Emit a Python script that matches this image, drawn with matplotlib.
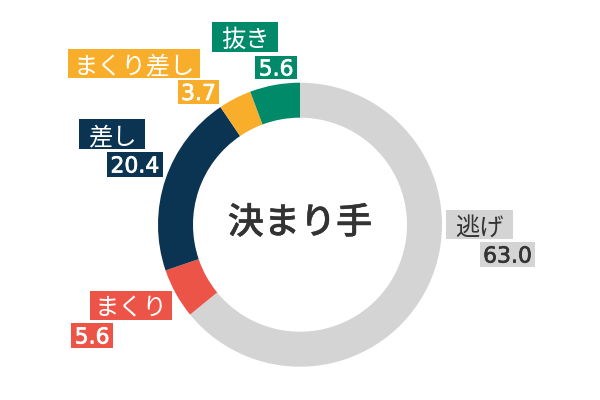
import matplotlib
matplotlib.use("Agg")
import matplotlib.pyplot as plt
from matplotlib.patches import Rectangle
import matplotlib.patheffects as pe

# Data
categories = ["逃げ", "まくり", "差し", "まくり差し", "抜き"]
values = [63.0, 5.6, 20.4, 3.7, 5.6]
value_labels = ["63.0", "5.6", "20.4", "3.7", "5.6"]
colors = ["#d4d4d4", "#ec5448", "#0b3352", "#f9ae2b", "#008a6a"]
text_colors = ["#333333", "white", "white", "white", "white"]
title = "決まり手"

# label box layout (pixels from top-left): x0, x1, y0, y1
name_boxes = [(446, 513, 210, 239), (90, 172, 291, 320), (79, 145, 119, 149),
              (68, 199.5, 49, 77.5), (212, 278, 22, 52)]
value_boxes = [(480, 535, 242, 267), (71, 113, 323, 348), (107, 163, 152, 177),
               (178, 219, 80, 104), (255, 297, 56, 79)]

W, H = 600, 400
fig = plt.figure(figsize=(6, 4), dpi=100)
ax = fig.add_axes([0, 0, 1, 1])

ax.pie(values, colors=colors, startangle=90, counterclock=False,
       center=(300, H - 224.7), radius=142,
       wedgeprops=dict(width=35, linewidth=0), frame=True)
ax.set_xlim(0, W)
ax.set_ylim(0, H)
ax.set_aspect("equal")
ax.axis("off")

cjk = ["Noto Sans CJK JP", "DejaVu Sans"]
ax.text(300, H - 219.5, title, ha="center", va="center_baseline", fontsize=26,
        color="#333333", family=cjk, fontweight="medium",
        path_effects=[pe.withStroke(linewidth=0.3, foreground="#333333")])


def box_label(box, txt, fc, tc, **kw):
    x0, x1, y0, y1 = box
    ax.add_patch(Rectangle((x0, H - y1), x1 - x0, y1 - y0, fc=fc, ec="none"))
    ax.text((x0 + x1) / 2, H - (y0 + y1) / 2, txt, ha="center",
            va="center_baseline", color=tc, **kw)


for name, val, c, tc, nb, vb in zip(categories, value_labels, colors,
                                    text_colors, name_boxes, value_boxes):
    box_label(nb, name, c, tc, fontsize=17.5, family=cjk)
    box_label(vb, val, c, tc, fontsize=15.8, family=["DejaVu Sans"],
              path_effects=[pe.withStroke(linewidth=0.5, foreground=tc)])

fig.savefig("out.png", dpi=100)
